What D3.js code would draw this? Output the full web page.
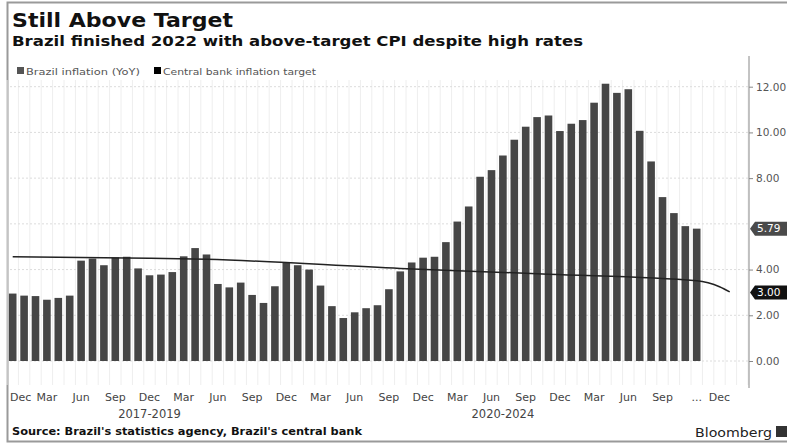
<!DOCTYPE html>
<html>
<head>
<meta charset="utf-8">
<script src="https://cdn.jsdelivr.net/npm/d3@7"></script>
<style>
  body { margin: 0; background: #fff; }
  svg { display: block; font-family: "DejaVu Sans", Verdana, sans-serif; }
</style>
</head>
<body>
<div id="chart"></div>
<script>
// monthly CPI, Dec 2017 .. Dec 2022
const inflation = [2.95,
    2.86, 2.84, 2.68, 2.76, 2.86, 4.39, 4.48, 4.19, 4.53, 4.56, 4.05, 3.75,
    3.78, 3.89, 4.58, 4.94, 4.66, 3.37, 3.22, 3.43, 2.89, 2.54, 3.27, 4.31,
    4.19, 4.00, 3.30, 2.40, 1.88, 2.13, 2.31, 2.44, 3.14, 3.92, 4.31, 4.52,
    4.56, 5.20, 6.10, 6.76, 8.06, 8.35, 8.99, 9.68, 10.25, 10.67, 10.74, 10.06,
    10.38, 10.54, 11.30, 12.13, 11.73, 11.89, 10.07, 8.73, 7.17, 6.47, 5.90, 5.79];

// target line, read at a few month positions
const targetIdx = [0, 12, 17, 34, 47, 60, 61, 62, 62.9];
const targetVal = [4.56, 4.50, 4.45, 4.05, 3.80, 3.51, 3.42, 3.25, 3.02];

const xTickIdx = [0, 3, 6, 9, 12, 15, 18, 21, 24, 27, 30, 33, 36, 39, 42, 45, 48, 51, 54, 57, 60, 62];
const xTickLabels = ["Dec", "Mar", "Jun", "Sep", "Dec", "Mar", "Jun", "Sep", "Dec", "Mar", "Jun",
    "Sep", "Dec", "Mar", "Jun", "Sep", "Dec", "Mar", "Jun", "Sep", "...", "Dec"];
const periodIdx = [12, 43];
const periodLabels = ["2017-2019", "2020-2024"];

const yTicks = [0, 2, 4, 8, 10, 12];
const yGrid = [0, 2, 4, 6, 8, 10, 12];

const width = 787, height = 445;

const svg = d3.select("#chart").append("svg")
    .attr("width", width)
    .attr("height", height);

const x = d3.scaleLinear().domain([0, 60]).range([12.7, 696.7]);
const y = d3.scaleLinear().domain([0, 12]).range([361, 86.7]);
const axisX = 749;

// frame
svg.append("path")
    .attr("d", `M${width},2.5 H7.5 V441.5 H${width}`)
    .attr("fill", "none")
    .attr("stroke", "#9a9a9a")
    .attr("stroke-width", 2);

// the source picture is a bit stretched sideways, so text gets a fixed length
function stretched(sel, len) {
    return sel.attr("textLength", len).attr("lengthAdjust", "spacingAndGlyphs");
}

// titles
stretched(svg.append("text").attr("x", 12).attr("y", 27)
    .attr("font-size", 20).attr("font-weight", "bold").attr("fill", "#111")
    .text("Still Above Target"), 221);
stretched(svg.append("text").attr("x", 12).attr("y", 46)
    .attr("font-size", 14).attr("font-weight", "bold").attr("fill", "#111")
    .text("Brazil finished 2022 with above-target CPI despite high rates"), 571);

// legend
const legend = svg.append("g").attr("font-size", 9.5).attr("fill", "#555");
legend.append("rect").attr("x", 17).attr("y", 67).attr("width", 7).attr("height", 7).attr("fill", "#555");
stretched(legend.append("text").attr("x", 26).attr("y", 74.5).text("Brazil inflation (YoY)"), 114);
legend.append("rect").attr("x", 154).attr("y", 67).attr("width", 7).attr("height", 7).attr("fill", "#000");
stretched(legend.append("text").attr("x", 163).attr("y", 74.5).text("Central bank inflation target"), 153);

// grid
const grid = svg.append("g");
grid.selectAll("line.v")
    .data(d3.range(-0.5, 65, 1))
    .join("line")
    .attr("x1", d => x(d)).attr("x2", d => x(d))
    .attr("y1", 80).attr("y2", 385)
    .attr("stroke", "#eeeeee").attr("stroke-width", 1);
grid.selectAll("line.h")
    .data(yGrid)
    .join("line")
    .attr("x1", 10).attr("x2", axisX)
    .attr("y1", d => y(d)).attr("y2", d => y(d))
    .attr("stroke", "#dcdcdc").attr("stroke-dasharray", "2,2");

// bars
const barW = 7.6;
svg.append("g").selectAll("rect")
    .data(inflation)
    .join("rect")
    .attr("x", (d, i) => x(i) - barW / 2)
    .attr("width", barW)
    .attr("y", d => y(d))
    .attr("height", d => y(0) - y(d))
    .attr("fill", "#464646");

// target line
const line = d3.line()
    .x(d => x(d[0]))
    .y(d => y(d[1]))
    .curve(d3.curveMonotoneX);
svg.append("path")
    .datum(targetIdx.map((d, i) => [d, targetVal[i]]))
    .attr("d", line)
    .attr("fill", "none")
    .attr("stroke", "#222")
    .attr("stroke-width", 1.5);

// right axis
const yAxis = svg.append("g").attr("transform", `translate(${axisX},0)`);
yAxis.append("line").attr("y1", 56).attr("y2", 388).attr("stroke", "#999");
yAxis.call(d3.axisRight(y).tickValues(yTicks).tickFormat(d3.format(".2f")).tickSize(4).tickPadding(3))
    .call(g => g.select(".domain").remove())
    .call(g => g.selectAll("line").attr("stroke", "#888"))
    .call(g => g.selectAll("text").attr("font-size", 10.5).attr("fill", "#555")
        .attr("font-family", "DejaVu Sans, sans-serif"));

// value tags
function tag(v, fill) {
    const ty = y(v);
    const g = svg.append("g");
    g.append("path")
        .attr("d", `M${axisX + 1},${ty} L${axisX + 6},${ty - 7} H${width + 5} V${ty + 7} H${axisX + 6} Z`)
        .attr("fill", fill);
    g.append("text")
        .attr("x", axisX + 8).attr("y", ty + 3.8)
        .attr("font-size", 10.5).attr("fill", "#fff")
        .text(d3.format(".2f")(v));
}
tag(inflation[inflation.length - 1], "#4a4a4a");
tag(3.0, "#111");

// x labels
svg.append("g").selectAll("text")
    .data(xTickIdx)
    .join("text")
    .attr("x", (d, i) => i === 0 ? 10 : x(d))
    .attr("y", 401)
    .attr("text-anchor", (d, i) => i === 0 ? "start" : "middle")
    .attr("font-size", 11)
    .attr("fill", "#444")
    .text((d, i) => xTickLabels[i]);

svg.append("g").selectAll("text")
    .data(periodIdx)
    .join("text")
    .attr("x", d => x(d))
    .attr("y", 418)
    .attr("text-anchor", "middle")
    .attr("font-size", 11.5)
    .attr("fill", "#444")
    .text((d, i) => periodLabels[i]);

// footer
stretched(svg.append("text").attr("x", 12).attr("y", 435)
    .attr("font-size", 10).attr("font-weight", "bold").attr("fill", "#111")
    .text("Source: Brazil's statistics agency, Brazil's central bank"), 350);
stretched(svg.append("text").attr("x", 695).attr("y", 437)
    .attr("font-size", 13).attr("fill", "#222")
    .text("Bloomberg"), 77);
svg.append("rect").attr("x", 776).attr("y", 426).attr("width", 11).attr("height", 11).attr("fill", "#333");
</script>
</body>
</html>
